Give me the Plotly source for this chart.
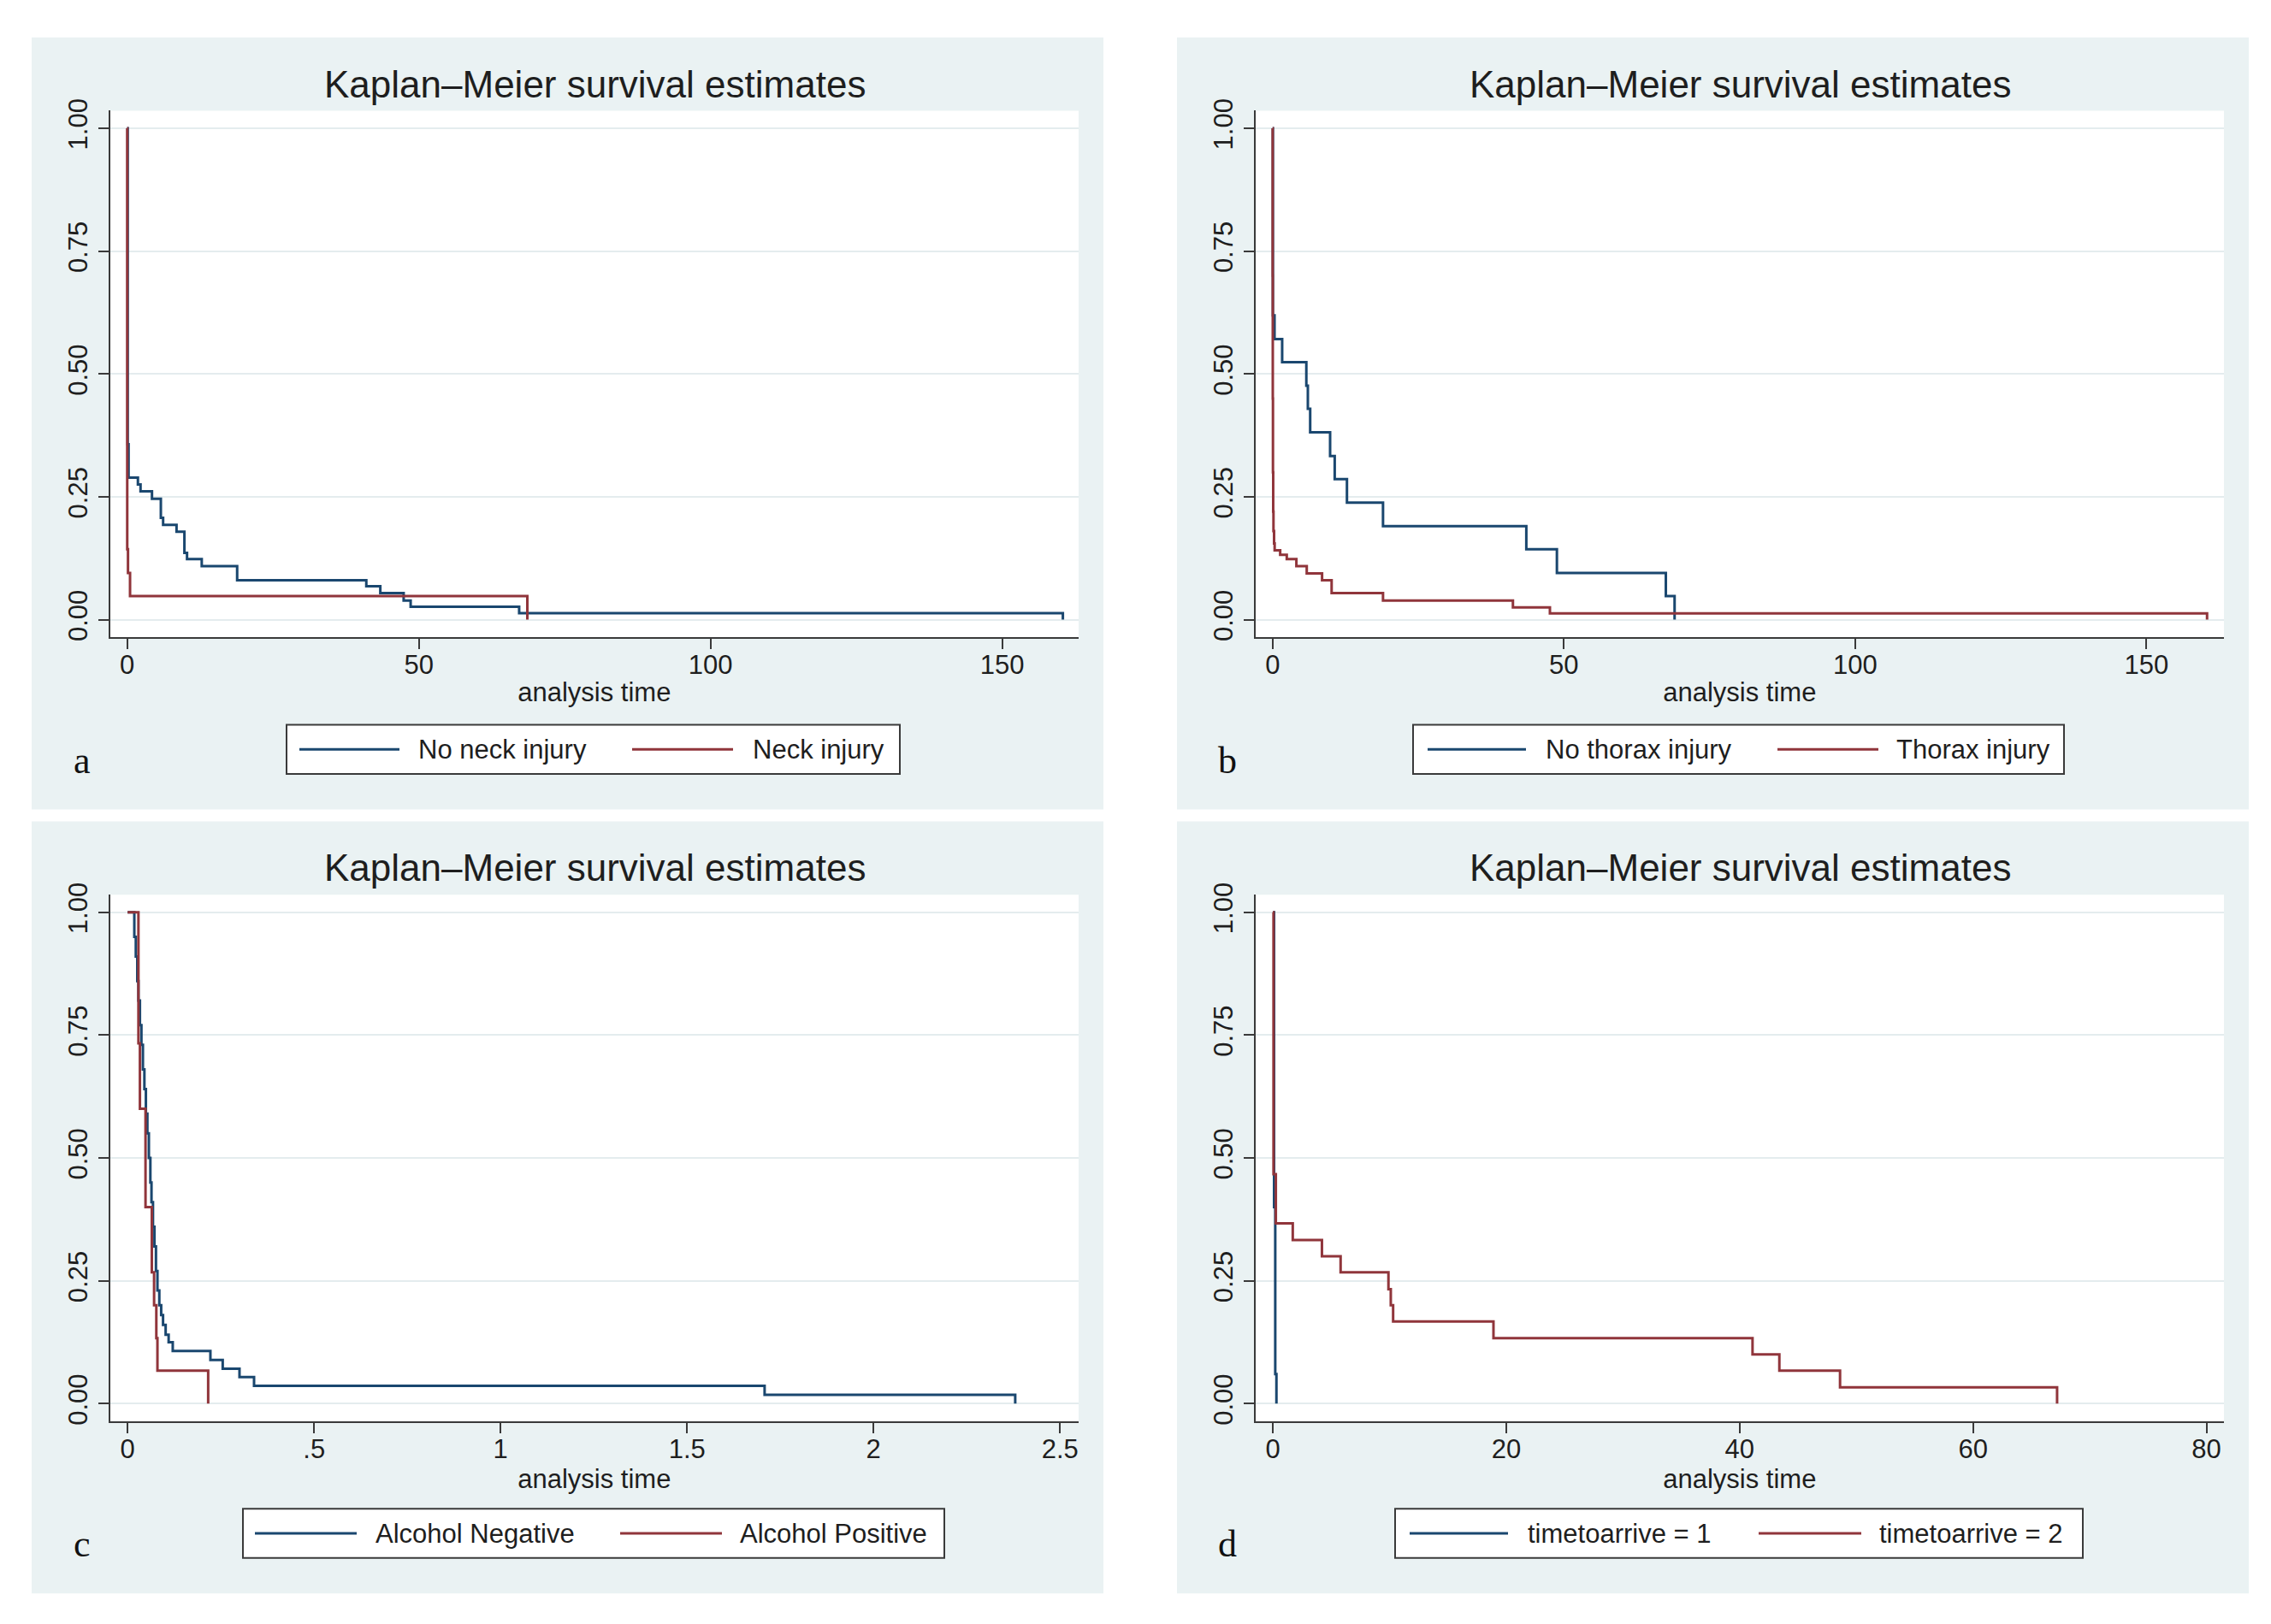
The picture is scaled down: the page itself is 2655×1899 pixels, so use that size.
import plotly.graph_objects as go

W, H = 2655, 1899

# ---------------- data ----------------
# panel a
a_no_neck_t = [0, 0.1, 0.25, 1.85, 2.3, 4.26, 5.78, 6.17, 8.47, 9.82, 10.27, 12.79, 18.86, 41.0, 43.4, 47.4, 48.6, 67.2, 160.4]
a_no_neck_s = [1.0, 0.357, 0.289, 0.275, 0.261, 0.246, 0.207, 0.193, 0.179, 0.136, 0.123, 0.109, 0.080, 0.068, 0.054, 0.039, 0.026, 0.013, 0.0]
a_neck_t = [0, 0.02, 0.15, 0.5, 68.6]
a_neck_s = [1.0, 0.143, 0.095, 0.048, 0.0]

# panel b
b_no_thorax_t = [0, 0.05, 0.33, 1.64, 5.79, 6.05, 6.45, 9.87, 10.66, 12.76, 18.95, 43.55, 48.8, 67.5, 69.0]
b_no_thorax_s = [1.0, 0.619, 0.571, 0.524, 0.476, 0.429, 0.381, 0.333, 0.286, 0.238, 0.190, 0.143, 0.095, 0.048, 0.0]
b_thorax_t = [0, 0.01, 0.03, 0.06, 0.10, 0.15, 0.25, 0.35, 1.3, 2.43, 4.08, 5.86, 8.49, 10.13, 18.95, 41.25, 47.6, 160.4]
b_thorax_s = [1.0, 0.70, 0.45, 0.30, 0.22, 0.18, 0.155, 0.141, 0.132, 0.123, 0.109, 0.094, 0.080, 0.054, 0.039, 0.025, 0.0125, 0.0]

# panel c
c_alc_neg_t = [0, 0.018, 0.022, 0.026, 0.029, 0.033, 0.037, 0.041, 0.045, 0.049, 0.053, 0.057, 0.061, 0.064,
               0.068, 0.072, 0.076, 0.080, 0.085, 0.090, 0.095, 0.102, 0.110, 0.121, 0.222, 0.255, 0.300,
               0.339, 1.708, 2.380]
c_alc_neg_s = [1.0, 0.95, 0.91, 0.86, 0.82, 0.77, 0.73, 0.68, 0.64, 0.59, 0.55, 0.50, 0.45, 0.41,
               0.36, 0.32, 0.27, 0.23, 0.20, 0.18, 0.16, 0.14, 0.125, 0.107, 0.089, 0.071, 0.054,
               0.036, 0.018, 0.0]
c_alc_pos_t = [0, 0.029, 0.033, 0.048, 0.065, 0.071, 0.077, 0.080, 0.216]
c_alc_pos_s = [1.0, 0.733, 0.600, 0.400, 0.267, 0.200, 0.133, 0.067, 0.0]

# panel d
d_arrive1_t = [0, 0.1, 0.2, 0.3]
d_arrive1_s = [1.0, 0.40, 0.06, 0.0]
d_arrive2_t = [0, 0.05, 0.25, 1.7, 4.2, 5.8, 9.9, 10.1, 10.3, 18.9, 41.1, 43.4, 48.6, 67.2]
d_arrive2_s = [1.0, 0.467, 0.367, 0.333, 0.300, 0.267, 0.233, 0.200, 0.167, 0.133, 0.100, 0.067, 0.033, 0.0]

y_ticks = [0, 0.25, 0.5, 0.75, 1.0]
y_tick_labels = ["0.00", "0.25", "0.50", "0.75", "1.00"]

a_x_ticks = [0, 50, 100, 150]
a_x_labels = ["0", "50", "100", "150"]
c_x_ticks = [0, 0.5, 1, 1.5, 2, 2.5]
c_x_labels = ["0", ".5", "1", "1.5", "2", "2.5"]
d_x_ticks = [0, 20, 40, 60, 80]
d_x_labels = ["0", "20", "40", "60", "80"]

title_text = "Kaplan\u2013Meier survival estimates"
x_title = "analysis time"

# ---------------- styling ----------------
BLUE = "#1a476f"
RED = "#90353b"
BG = "#eaf2f3"
GRID = "#e4ecee"
AX = "#3a3a3a"
TXT = "#1e1e1e"
FONT = "Liberation Sans, Arial, Helvetica, sans-serif"
SERIF = "Liberation Serif, Times New Roman, serif"

panels = [
    dict(letter="a", dx=0, dy=0, xr=[-2.92, 163.1], xt=a_x_ticks, xl=a_x_labels,
         series=[(a_no_neck_t, a_no_neck_s, "No neck injury", BLUE),
                 (a_neck_t, a_neck_s, "Neck injury", RED)],
         legend=dict(box=(335, 1052), items=[(350, 467, 487), (739, 857, 878)])),
    dict(letter="b", dx=1339, dy=0, xr=[-2.95, 163.3], xt=a_x_ticks, xl=a_x_labels,
         series=[(b_no_thorax_t, b_no_thorax_s, "No thorax injury", BLUE),
                 (b_thorax_t, b_thorax_s, "Thorax injury", RED)],
         legend=dict(box=(1652, 2413), items=[(1669, 1784, 1805), (2078, 2196, 2215)])),
    dict(letter="c", dx=0, dy=926, xr=[-0.047, 2.55], xt=c_x_ticks, xl=c_x_labels,
         series=[(c_alc_neg_t, c_alc_neg_s, "Alcohol Negative", BLUE),
                 (c_alc_pos_t, c_alc_pos_s, "Alcohol Positive", RED)],
         legend=dict(box=(284, 1104), items=[(298, 417, 437), (725, 844, 863)])),
    dict(letter="d", dx=1339, dy=926, xr=[-1.5, 81.5], xt=d_x_ticks, xl=d_x_labels,
         series=[(d_arrive1_t, d_arrive1_s, "timetoarrive = 1", BLUE),
                 (d_arrive2_t, d_arrive2_s, "timetoarrive = 2", RED)],
         legend=dict(box=(1631, 2435), items=[(1648, 1763, 1784), (2056, 2176, 2195)])),
]

def px(xp):
    return xp / W

def py(yp):
    return 1 - yp / H

fig = go.Figure()
shapes = []
annotations = []
layout_axes = {}

for i, p in enumerate(panels, start=1):
    dx, dy = p["dx"], p["dy"]
    sfx = "" if i == 1 else str(i)
    xname, yname = "x" + sfx, "y" + sfx

    # background of graph region and white plot region
    shapes.append(dict(type="rect", xref="paper", yref="paper", layer="below",
                       x0=px(37 + dx), x1=px(1290 + dx), y0=py(942 + dy), y1=py(30 + dy),
                       fillcolor=BG, line=dict(width=0)))
    shapes.append(dict(type="rect", xref="paper", yref="paper", layer="below",
                       x0=px(128.7 + dx), x1=px(1261 + dx), y0=py(738.5 + dy), y1=py(116.6 + dy),
                       fillcolor="white", line=dict(width=0)))

    for t, s, name, col in p["series"]:
        fig.add_trace(go.Scatter(x=t, y=s, mode="lines", name=name, showlegend=False,
                                 line=dict(shape="hv", color=col, width=3),
                                 xaxis=xname, yaxis=yname, hoverinfo="x+y+name"))

    layout_axes["xaxis" + sfx] = dict(
        domain=[px(128.7 + dx), px(1261 + dx)], anchor=yname, range=p["xr"],
        tickmode="array", tickvals=p["xt"], ticktext=p["xl"],
        ticks="outside", ticklen=12, tickwidth=2, tickcolor=AX, ticklabelstandoff=-8,
        showline=True, linecolor=AX, linewidth=2, showgrid=False, zeroline=False,
        tickfont=dict(family=FONT, size=31, color=TXT),
        title=dict(text=x_title, font=dict(family=FONT, size=31, color=TXT), standoff=4),
        fixedrange=True)
    layout_axes["yaxis" + sfx] = dict(
        domain=[py(738.5 + dy), py(116.6 + dy)], anchor=xname, range=[-0.0358, 1.0357],
        tickmode="array", tickvals=y_ticks, ticktext=y_tick_labels, tickangle=-90,
        ticks="outside", ticklen=12, tickwidth=2, tickcolor=AX,
        showline=True, linecolor=AX, linewidth=2, showgrid=True, gridcolor=GRID, gridwidth=2,
        zeroline=False, tickfont=dict(family=FONT, size=31, color=TXT), fixedrange=True)

    # title
    annotations.append(dict(text=title_text, xref="paper", yref="paper", x=px(695 + dx), y=py(85 + dy),
                            xanchor="center", yanchor="middle", showarrow=False,
                            font=dict(family=FONT, size=44, color=TXT)))
    # panel letter
    annotations.append(dict(text=p["letter"], xref="paper", yref="paper", x=px(96 + dx), y=py(884 + dy),
                            xanchor="center", yanchor="middle", showarrow=False,
                            font=dict(family=SERIF, size=44, color="#111111")))

    # legend box (drawn manually to match Stata key geometry)
    lg = p["legend"]
    bx0, bx1 = lg["box"]
    shapes.append(dict(type="rect", xref="paper", yref="paper", layer="above",
                       x0=px(bx0), x1=px(bx1), y0=py(900 + dy), y1=py(842 + dy),
                       fillcolor="white", line=dict(color=AX, width=2)))
    for (lx0, lx1, tx), (_, _, name, col) in zip(lg["items"], p["series"]):
        shapes.append(dict(type="line", xref="paper", yref="paper", layer="above",
                           x0=px(lx0), x1=px(lx1), y0=py(871 + dy), y1=py(871 + dy),
                           line=dict(color=col, width=3)))
        annotations.append(dict(text=name, xref="paper", yref="paper", x=px(tx), y=py(871 + dy),
                                xanchor="left", yanchor="middle", showarrow=False,
                                font=dict(family=FONT, size=31, color=TXT)))

fig.update_layout(
    width=W, height=H, margin=dict(l=0, r=0, t=0, b=0),
    paper_bgcolor="white", plot_bgcolor="rgba(0,0,0,0)",
    showlegend=False, shapes=shapes, annotations=annotations,
    font=dict(family=FONT, color=TXT),
    **layout_axes)

fig.write_html("out.html", config={"displayModeBar": False},
               post_script="document.body.style.margin='0';document.body.style.overflow='hidden';")
